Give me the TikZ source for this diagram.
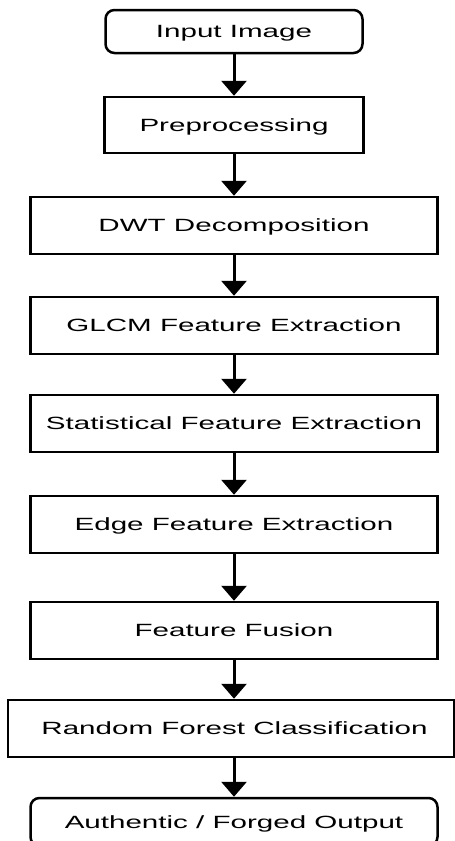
\documentclass[tikz,border=0pt]{standalone}
\usepackage{fontspec}
\setmainfont{Liberation Sans}
\newfontfamily\widefont[FakeStretch=1.67]{Liberation Sans}
\usetikzlibrary{arrows.meta}
\begin{document}
\begin{tikzpicture}[x=1pt,y=-1pt,
  box/.style={draw=black, line width=2.5pt, fill=white, inner sep=0pt,
    text height=12.7pt, text depth=0pt,
    font=\widefont\fontsize{17.7}{20}\selectfont},
  rbox/.style={box, rounded corners=9pt},
  flow/.style={line width=3pt, -{Triangle[width=25pt,length=15pt]}}]
\useasboundingbox (0,0) rectangle (455,841);
\clip (0,0) rectangle (455,841);
\fill[white] (0,0) rectangle (455,841);

\node[rbox, minimum width=257pt, minimum height=43pt] (inp) at (234,31.5) {Input Image};
\node[box, minimum width=259pt, minimum height=56pt] (pre) at (234,125) {Preprocessing};
\node[box, minimum width=407pt, minimum height=57pt] (dwt) at (234,225.5) {DWT Decomposition};
\node[box, minimum width=407pt, minimum height=57pt] (glcm) at (234,325.5) {GLCM Feature Extraction};
\node[box, minimum width=407pt, minimum height=57pt] (stat) at (234,423.5) {Statistical Feature Extraction};
\node[box, minimum width=407pt, minimum height=57pt] (edge) at (234,524.5) {Edge Feature Extraction};
\node[box, minimum width=407pt, minimum height=57pt] (ff) at (234,630.5) {Feature Fusion};
\node[box, minimum width=446pt, minimum height=57pt] (rf) at (231,728.5) {\hspace*{7pt}Random Forest Classification};
\node[rbox, minimum width=407pt, minimum height=48pt] (out) at (234,822) {Authentic / Forged Output};

\draw[flow] (inp) -- (pre);
\draw[flow] (pre) -- (dwt);
\draw[flow] (dwt) -- (glcm);
\draw[flow] (glcm) -- (stat);
\draw[flow] (stat) -- (edge);
\draw[flow] (edge) -- (ff);
\draw[flow] (ff.south) -- (ff.south |- rf.north);
\draw[flow] (out.north |- rf.south) -- (out.north);
\end{tikzpicture}
\end{document}
